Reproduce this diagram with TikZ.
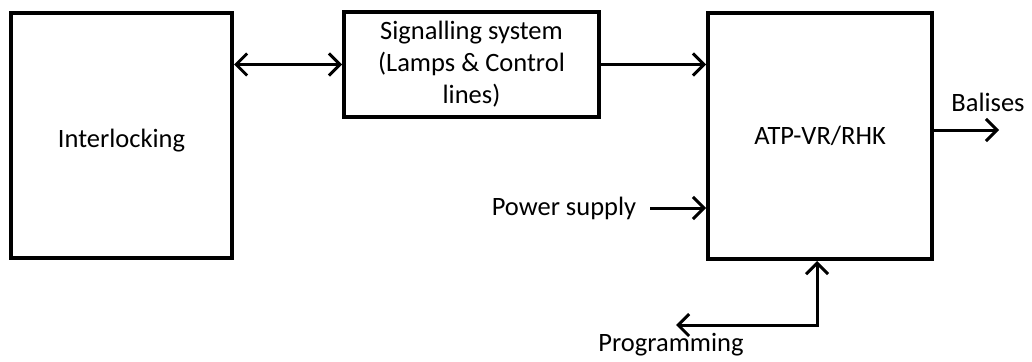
\documentclass[tikz,border=0pt]{standalone}
\usepackage{fontspec}
\setmainfont{Carlito}
\usetikzlibrary{arrows.meta}
\begin{document}
\begin{tikzpicture}[x=1pt,y=-1pt,
  font=\fontsize{26.5}{32}\selectfont,
  >={Straight Barb[length=11pt,width=22pt,line width=3pt]},
  box/.style={draw,line width=4pt,inner sep=0pt,align=center},
  lbl/.style={inner sep=0pt},
  conn/.style={line width=3pt,->},
  conn2/.style={line width=3pt,<->}]
\useasboundingbox[fill=white] (0,0) rectangle (1032,361);
\node[box,minimum width=221pt,minimum height=245pt] (il) at (121.5,135.5) {\raisebox{-5pt}[\height][\depth]{Interlocking}};
\node[box,minimum width=255pt,minimum height=105pt] (sig) at (471.5,64.5) {Signalling system\\(Lamps \& Control\\lines)};
\node[box,minimum width=224pt,minimum height=246pt] (atp) at (820,136) {ATP-VR/RHK};
\node[lbl] (bal) at (988,102) {Balises};
\node[lbl] (ps) at (564,208) {Power supply};
\node[lbl] (prog) at (671,345) {Programming};
\coordinate (balend) at (999,130);
\coordinate (pc) at (817,325);
\coordinate (pe) at (676,325);
\draw[conn2] (il.east |- sig.west) -- (sig.west);
\draw[conn] (sig.east) -- (sig.east -| atp.west);
\draw[conn] (atp.east |- balend) -- (balend);
\draw[conn] ([xshift=14pt]ps.east) -- (ps.east -| atp.west);
\draw[conn2] (pc |- atp.south) -- (pc) -- (pe);
\end{tikzpicture}
\end{document}
